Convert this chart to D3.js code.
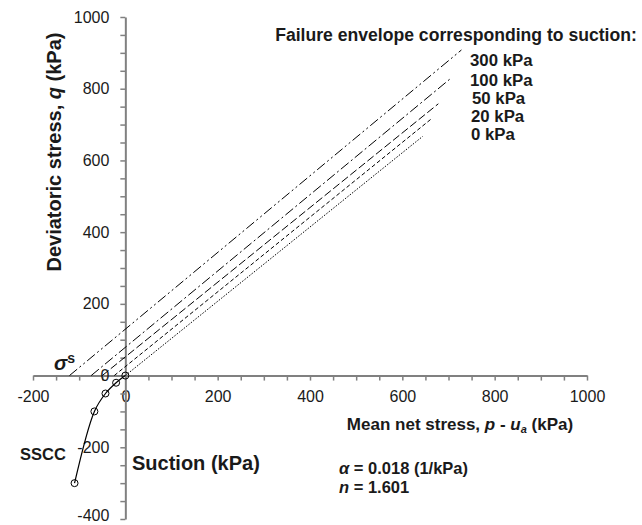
<!DOCTYPE html>
<html>
<head>
<meta charset="utf-8">
<script src="https://cdn.jsdelivr.net/npm/d3@7"></script>
<style>
  body { margin: 0; background: #fff; }
  text { font-family: Arial, "Liberation Sans", sans-serif; }
</style>
</head>
<body>
<script>
var suction = [0, 20, 50, 100, 300];
var sigmaS = [0, 20, 43, 67, 110];

// failure envelopes: start on q = 0, end point (p, q)
var envStartP = [0, -24, -50, -74, -121];
var envEndP = [644, 662, 678, 705, 728];
var envEndQ = [667, 715, 758, 829, 908];
var envLabels = ["0 kPa", "20 kPa", "50 kPa", "100 kPa", "300 kPa"];
var envDash = ["1.5,1.5", "4,2.5", "8,3", "10,3,2,3", "10,3,2,3,2,3"];

var xTicks = [-200, 0, 200, 400, 600, 800, 1000];
var yTicks = [-400, -200, 0, 200, 400, 600, 800, 1000];

var W = 642, H = 525;
var svg = d3.select("body").append("svg")
    .attr("width", W)
    .attr("height", H);

var x = d3.scaleLinear().domain([-200, 1000]).range([33, 587]);
var y = d3.scaleLinear().domain([-400, 1000]).range([519, 17]);

var axisColor = "#808080";
var txtColor = "#1a1a1a";

// axes cross at the origin
var xAxis = d3.axisBottom(x)
    .tickValues(d3.range(-200, 1001, 50))
    .tickSize(5)
    .tickSizeOuter(0)
    .tickPadding(10)
    .tickFormat(function(d) { return xTicks.indexOf(d) >= 0 ? d : ""; });

var yAxis = d3.axisLeft(y)
    .tickValues(d3.range(-400, 1001, 50))
    .tickSize(5)
    .tickSizeOuter(0)
    .tickPadding(11)
    .tickFormat(function(d) { return yTicks.indexOf(d) >= 0 ? d : ""; });

function styleAxis(g) {
    g.select(".domain").attr("stroke", axisColor).attr("stroke-width", 2);
    g.selectAll(".tick line").attr("stroke", axisColor).attr("stroke-width", 1.5);
    g.selectAll(".tick text")
        .attr("fill", txtColor)
        .style("font-size", "16px")
        .style("font-family", "Arial, 'Liberation Sans', sans-serif");
}

svg.append("g")
    .attr("transform", "translate(0," + y(0) + ")")
    .call(xAxis)
    .call(styleAxis);

var yg = svg.append("g")
    .attr("transform", "translate(" + x(0) + ",0)")
    .call(yAxis)
    .call(styleAxis);

// keep the lowest label inside the picture
yg.selectAll(".tick text")
    .filter(function(d) { return d === -400; })
    .attr("dy", "0.1em");

// failure envelopes
var env = envLabels.map(function(l, i) {
    return { start: [envStartP[i], 0], end: [envEndP[i], envEndQ[i]], dash: envDash[i] };
});

svg.selectAll(".env")
    .data(env)
    .enter().append("line")
    .attr("class", "env")
    .attr("x1", function(d) { return x(d.start[0]); })
    .attr("y1", function(d) { return y(d.start[1]); })
    .attr("x2", function(d) { return x(d.end[0]); })
    .attr("y2", function(d) { return y(d.end[1]); })
    .attr("stroke", "#000")
    .attr("stroke-width", 1)
    .attr("stroke-dasharray", function(d) { return d.dash; });

// SSCC curve
var sscc = suction.map(function(s, i) { return [-sigmaS[i], -s]; });

svg.append("path")
    .datum(sscc)
    .attr("fill", "none")
    .attr("stroke", "#000")
    .attr("stroke-width", 1.2)
    .attr("d", d3.line()
        .x(function(d) { return x(d[0]); })
        .y(function(d) { return y(d[1]); })
        .curve(d3.curveCatmullRom));

svg.selectAll(".pt")
    .data(sscc)
    .enter().append("circle")
    .attr("class", "pt")
    .attr("cx", function(d) { return x(d[0]); })
    .attr("cy", function(d) { return y(d[1]); })
    .attr("r", 3.5)
    .attr("fill", "none")
    .attr("stroke", "#000")
    .attr("stroke-width", 1);

// titles
svg.append("text")
    .attr("transform", "translate(61,152) rotate(-90)")
    .attr("text-anchor", "middle")
    .style("font-size", "20px")
    .style("font-weight", "bold")
    .attr("fill", txtColor)
    .call(function(t) {
        t.append("tspan").text("Deviatoric stress, ");
        t.append("tspan").style("font-style", "italic").text("q");
        t.append("tspan").text(" (kPa)");
    });

var xt = svg.append("text")
    .attr("x", 460)
    .attr("y", 430)
    .attr("text-anchor", "middle")
    .style("font-size", "17px")
    .style("font-weight", "bold")
    .attr("fill", txtColor);
xt.append("tspan").text("Mean net stress, ");
xt.append("tspan").style("font-style", "italic").text("p");
xt.append("tspan").text(" - ");
xt.append("tspan").style("font-style", "italic").text("u");
xt.append("tspan").style("font-style", "italic").style("font-size", "11px").attr("dy", 3).text("a");
xt.append("tspan").attr("dy", -3).text(" (kPa)");

svg.append("text")
    .attr("x", 456)
    .attr("y", 41)
    .attr("text-anchor", "middle")
    .style("font-size", "17.6px")
    .style("font-weight", "bold")
    .attr("fill", txtColor)
    .text("Failure envelope corresponding to suction:");

var labY = [140, 122, 104, 86, 66];
var labX = [471, 471, 472, 470, 470];
svg.selectAll(".envlab")
    .data(envLabels)
    .enter().append("text")
    .attr("class", "envlab")
    .attr("x", function(d, i) { return labX[i]; })
    .attr("y", function(d, i) { return labY[i]; })
    .style("font-size", "16.8px")
    .style("font-weight", "bold")
    .attr("fill", txtColor)
    .text(function(d) { return d; });

// SSCC annotations
svg.append("text")
    .attr("x", 20)
    .attr("y", 460)
    .style("font-size", "16.5px")
    .style("font-weight", "bold")
    .attr("fill", txtColor)
    .text("SSCC");

svg.append("text")
    .attr("x", 132)
    .attr("y", 470)
    .style("font-size", "20px")
    .style("font-weight", "bold")
    .attr("fill", txtColor)
    .text("Suction (kPa)");

var sg = svg.append("text")
    .attr("x", 54)
    .attr("y", 370)
    .style("font-size", "20px")
    .style("font-weight", "bold")
    .attr("fill", txtColor);
sg.append("tspan").style("font-style", "italic").text("σ");
sg.append("tspan").style("font-size", "14px").attr("dy", -7).text("s");

var a1 = svg.append("text")
    .attr("x", 339)
    .attr("y", 474)
    .style("font-size", "16.5px")
    .style("font-weight", "bold")
    .attr("fill", txtColor);
a1.append("tspan").style("font-style", "italic").text("α");
a1.append("tspan").text(" = 0.018 (1/kPa)");

var a2 = svg.append("text")
    .attr("x", 339)
    .attr("y", 493)
    .style("font-size", "16.5px")
    .style("font-weight", "bold")
    .attr("fill", txtColor);
a2.append("tspan").style("font-style", "italic").text("n");
a2.append("tspan").text(" = 1.601");
</script>
</body>
</html>
